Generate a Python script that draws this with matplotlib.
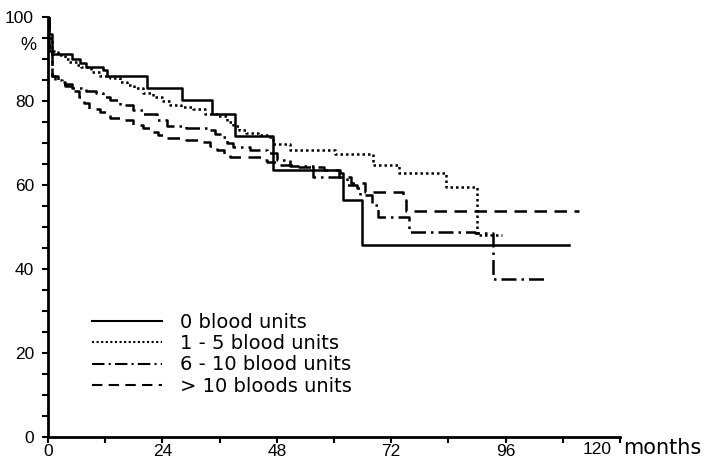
import matplotlib
matplotlib.use('Agg')
import matplotlib.pyplot as plt

# survival curves (months, % surviving)
t_0 = [0, 0.3, 0.8, 5, 6.7, 8, 11.5, 12.3, 20.7, 28.1, 34.5, 39.3, 47.2, 61.2, 61.8, 65.8, 109.4]
s_0 = [100, 96, 91.3, 90, 89, 88, 87.4, 86, 83, 80.3, 76.9, 71.7, 63.6, 62.8, 56.4, 45.7, 45.7]

t_1_5 = [0, 0.3, 0.8, 2, 3.5, 4.5, 6, 7, 9, 11, 13, 15, 16.5, 18, 20, 22, 24, 25.5, 28,
         30.5, 33, 35.5, 37.5, 38.8, 40, 41.5, 44, 46, 47.2, 50.7, 60.2, 68.2, 73.6, 83.4,
         89.9, 95.2]
s_1_5 = [100, 95, 92, 91, 90, 89.3, 88.5, 88, 87, 86, 85.5, 84.5, 83.8, 83, 82, 81, 80, 79,
         78.5, 78, 77, 76.5, 75, 74, 73, 72.5, 72, 71.5, 69.8, 68.3, 67.4, 64.8, 62.9, 59.5,
         48.1, 48.1]

t_6_10 = [0, 0.3, 0.8, 1.5, 3, 5, 8, 10, 11.5, 13, 15, 17.8, 20, 22.8, 25, 29, 33.3, 35, 36,
          37.5, 38.8, 42.3, 45.9, 48, 50.7, 55.6, 62.7, 64.8, 65.4, 68, 69.2, 75.7, 89.5,
          93.3, 104.4]
s_6_10 = [100, 92, 86, 85, 84, 83, 82.5, 82, 81, 80.2, 79, 77.9, 76.8, 75.5, 74, 73.6, 73.1,
          72.2, 71.5, 70, 69, 68.3, 67.6, 66, 64.5, 62, 60, 59.3, 57.6, 55.2, 52.4, 48.8, 48.5,
          37.6, 37.6]

t_10 = [0, 0.3, 0.8, 2, 3.5, 5.5, 6.5, 7.5, 8.5, 11, 13, 15, 17.8, 20, 21.4, 23, 25, 29,
        32.5, 34, 35.4, 37, 38.2, 45, 45.9, 48, 51.4, 58, 61, 63.5, 66.5, 74.4, 75.2, 111.3]
s_10 = [100, 92, 86, 84.5, 83.5, 82.5, 81, 79.5, 78, 77.4, 76, 75.5, 74.3, 73.5, 72.6, 72,
        71.2, 70.7, 70.2, 69.3, 68.3, 67.5, 66.7, 66, 65.5, 64.8, 64.2, 63.5, 62, 60.5, 58.3,
        56.4, 53.8, 53.8]

labels = ['0 blood units', '1 - 5 blood units', '6 - 10 blood units', '> 10 bloods units']
styles = ['-', (0, (1, 1.2)), (0, (6, 2, 1, 2)), (0, (5, 3))]

plt.rcParams['font.family'] = ['Liberation Sans', 'DejaVu Sans']

fig = plt.figure(figsize=(7.14, 4.63), dpi=100)
ax = fig.add_axes([48 / 714, 26 / 463, 572 / 714, 420 / 463])

for t, s, lab, ls in zip([t_0, t_1_5, t_6_10, t_10], [s_0, s_1_5, s_6_10, s_10], labels, styles):
    ax.step(t, s, where='post', color='black', lw=1.8, ls=ls, label=lab)

ax.set_xlim(0, 120)
ax.set_ylim(0, 100)
for side in ['top', 'right']:
    ax.spines[side].set_visible(False)
for side in ['left', 'bottom']:
    ax.spines[side].set_linewidth(2)

ax.set_xticks(range(0, 121, 12))
ax.set_xticklabels(['0', '', '24', '', '48', '', '72', '', '96', '', ''])
ax.set_yticks(range(0, 101, 5))
ax.set_yticklabels([str(v) if v % 20 == 0 else '' for v in range(0, 101, 5)])
ax.tick_params(direction='out', length=4, width=1.5, labelsize=12.5)
ax.tick_params(axis='y', pad=6)
ax.tick_params(axis='x', pad=1)

# last x label with unit, as in the original
fig.text(583 / 714, 1 - 454 / 463, '120', fontsize=12.5, ha='left', va='baseline')
fig.text(623 / 714, 1 - 454 / 463, 'months', fontsize=15, ha='left', va='baseline',
         family='DejaVu Sans')
fig.text(28 / 714, 1 - 46 / 463, '%', fontsize=13, ha='center', va='center')

leg = ax.legend(loc='upper left', bbox_to_anchor=(0.077, 0.296), frameon=False,
                prop={'family': 'DejaVu Sans', 'size': 14},
                handlelength=3.6, handletextpad=0.9, labelspacing=0.12, borderaxespad=0,
                borderpad=0)
for line in leg.get_lines():
    line.set_linewidth(1.5)

fig.savefig('out.png', dpi=100)
